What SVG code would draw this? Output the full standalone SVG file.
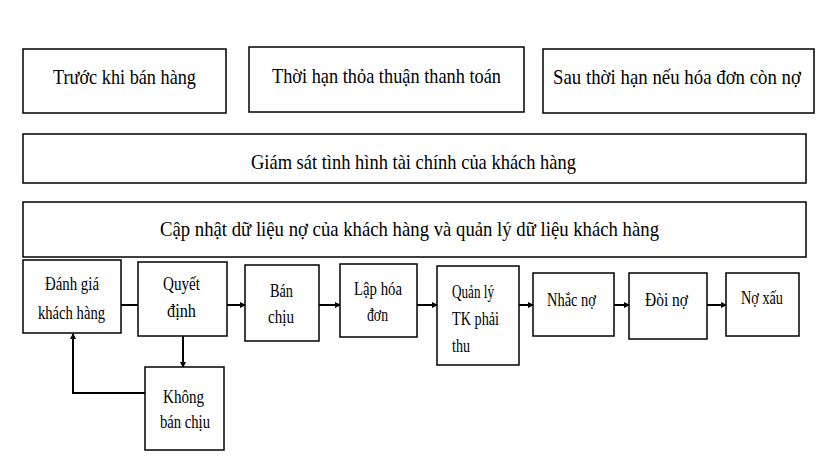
<svg xmlns="http://www.w3.org/2000/svg" width="824" height="470" viewBox="0 0 824 470">
<style>
.b{fill:#fff;stroke:#000;stroke-width:1.5}
text{font-family:"Liberation Serif","Times New Roman",serif;fill:#000}
.t{font-size:21px}.s{font-size:18px}
.c{fill:none;stroke:#000;stroke-width:2}
</style>
<defs><marker id="a" markerWidth="6" markerHeight="6" refX="5" refY="3" orient="auto" markerUnits="userSpaceOnUse"><path d="M0,0L6,3L0,6z" fill="#000"/></marker></defs>
<rect width="824" height="470" fill="#fff"/>
<g id="n1"><rect class="b" x="23" y="49" width="203" height="64"/><text class="t" x="53" y="84" textLength="143" lengthAdjust="spacingAndGlyphs">Trước khi bán hàng</text></g>
<g id="n2"><rect class="b" x="249" y="47" width="275" height="65"/><text class="t" x="272" y="83" textLength="229" lengthAdjust="spacingAndGlyphs">Thời hạn thỏa thuận thanh toán</text></g>
<g id="n3"><rect class="b" x="543" y="49" width="271" height="64"/><text class="t" x="553" y="84" textLength="248" lengthAdjust="spacingAndGlyphs">Sau thời hạn nếu hóa đơn còn nợ</text></g>
<g id="n4"><rect class="b" x="23" y="134" width="783" height="49"/><text class="t" x="251" y="169" textLength="325" lengthAdjust="spacingAndGlyphs">Giám sát tình hình tài chính của khách hàng</text></g>
<g id="n5"><rect class="b" x="23" y="202" width="783" height="55"/><text class="t" x="160" y="236" textLength="499" lengthAdjust="spacingAndGlyphs">Cập nhật dữ liệu nợ của khách hàng và quản lý dữ liệu khách hàng</text></g>
<g id="connectors">
<path class="c" d="M121,305H138"/>
<path class="c" d="M227,305H245" marker-end="url(#a)"/>
<path class="c" d="M319,305H340" marker-end="url(#a)"/>
<path class="c" d="M417,305H437" marker-end="url(#a)"/>
<path class="c" d="M519,305H533" marker-end="url(#a)"/>
<path class="c" d="M614,305H629" marker-end="url(#a)"/>
<path class="c" d="M707,305H726" marker-end="url(#a)"/>
<path class="c" d="M183,336V367" marker-end="url(#a)"/>
<path class="c" d="M145,393H73V334" marker-end="url(#a)"/>
</g>
<g id="n6"><rect class="b" x="23" y="260" width="98" height="73"/><text class="s" x="45" y="290" textLength="54" lengthAdjust="spacingAndGlyphs">Đánh giá</text><text class="s" x="38" y="319" textLength="67" lengthAdjust="spacingAndGlyphs">khách hàng</text></g>
<g id="n7"><rect class="b" x="138" y="262" width="89" height="74"/><text class="s" x="163" y="290" textLength="37" lengthAdjust="spacingAndGlyphs">Quyết</text><text class="s" x="167" y="317" textLength="29" lengthAdjust="spacingAndGlyphs">định</text></g>
<g id="n8"><rect class="b" x="245" y="265" width="74" height="76"/><text class="s" x="270" y="297" textLength="23" lengthAdjust="spacingAndGlyphs">Bán</text><text class="s" x="268" y="323" textLength="26" lengthAdjust="spacingAndGlyphs">chịu</text></g>
<g id="n9"><rect class="b" x="340" y="264" width="77" height="73"/><text class="s" x="354" y="295" textLength="48" lengthAdjust="spacingAndGlyphs">Lập hóa</text><text class="s" x="367" y="321" textLength="21" lengthAdjust="spacingAndGlyphs">đơn</text></g>
<g id="n10"><rect class="b" x="145" y="367" width="79" height="83"/><text class="s" x="163" y="403" textLength="41" lengthAdjust="spacingAndGlyphs">Không</text><text class="s" x="160" y="428" textLength="50" lengthAdjust="spacingAndGlyphs">bán chịu</text></g>
<g id="n11"><rect class="b" x="437" y="266" width="82" height="99"/><text class="s" x="452" y="298" textLength="42" lengthAdjust="spacingAndGlyphs">Quản lý</text><text class="s" x="452" y="325" textLength="47" lengthAdjust="spacingAndGlyphs">TK phải</text><text class="s" x="452" y="352" textLength="18" lengthAdjust="spacingAndGlyphs">thu</text></g>
<g id="n12"><rect class="b" x="533" y="273" width="81" height="63"/><text class="s" x="547" y="306" textLength="49" lengthAdjust="spacingAndGlyphs">Nhắc nợ</text></g>
<g id="n13"><rect class="b" x="629" y="273" width="78" height="66"/><text class="s" x="645" y="306" textLength="43" lengthAdjust="spacingAndGlyphs">Đòi nợ</text></g>
<g id="n14"><rect class="b" x="726" y="273" width="73" height="63"/><text class="s" x="741" y="304" textLength="42" lengthAdjust="spacingAndGlyphs">Nợ xấu</text></g>
</svg>
